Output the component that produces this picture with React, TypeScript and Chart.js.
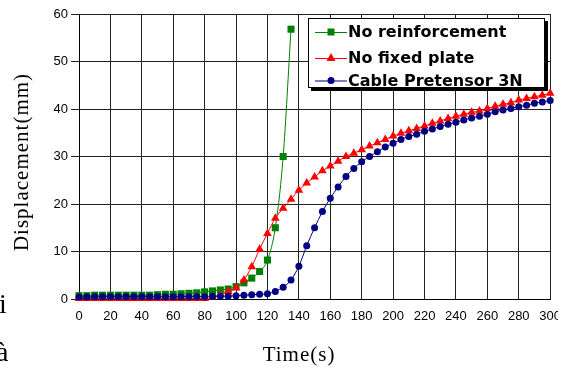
import React, { useEffect, useRef } from "react";
import { Chart, registerables } from "chart.js";

Chart.register(...registerables);

const times = [
  0, 5, 10, 15, 20, 25, 30, 35, 40, 45, 50, 55, 60, 65, 70, 75, 80, 85, 90, 95,
  100, 105, 110, 115, 120, 125, 130, 135, 140, 145, 150, 155, 160, 165, 170, 175,
  180, 185, 190, 195, 200, 205, 210, 215, 220, 225, 230, 235, 240, 245, 250, 255,
  260, 265, 270, 275, 280, 285, 290, 295, 300,
];

const noReinforcement = [
  0.7, 0.7, 0.8, 0.8, 0.8, 0.8, 0.8, 0.8, 0.8, 0.8, 0.9, 1.0, 1.0, 1.1, 1.2, 1.3,
  1.5, 1.7, 1.9, 2.1, 2.6, 3.4, 4.4, 5.8, 8.2, 15.0, 30.0, 56.8,
];

const noFixedPlate = [
  0.1, 0.1, 0.1, 0.1, 0.1, 0.1, 0.1, 0.1, 0.1, 0.1, 0.1, 0.1, 0.1, 0.1, 0.1, 0.1,
  0.1, 0.4, 0.9, 1.6, 2.3, 4.0, 6.8, 10.5, 13.8, 17.0, 19.1, 21.0, 22.9, 24.4,
  25.7, 27.0, 28.0, 29.0, 30.0, 30.7, 31.4, 32.2, 32.9, 33.6, 34.3, 34.9, 35.4,
  35.9, 36.4, 37.0, 37.5, 38.0, 38.5, 38.9, 39.3, 39.6, 40.1, 40.6, 41.0, 41.3,
  41.9, 42.2, 42.6, 42.9, 43.3,
];

const cablePretensor = [
  0.4, 0.4, 0.5, 0.5, 0.5, 0.5, 0.5, 0.5, 0.5, 0.5, 0.5, 0.5, 0.5, 0.5, 0.5, 0.5,
  0.5, 0.6, 0.6, 0.6, 0.7, 0.8, 0.9, 1.0, 1.1, 1.6, 2.5, 4.0, 6.9, 11.2, 15.0,
  18.4, 21.2, 23.6, 25.8, 27.5, 28.9, 30.0, 31.0, 32.0, 32.8, 33.6, 34.2, 34.7,
  35.3, 35.8, 36.3, 36.8, 37.2, 37.7, 38.1, 38.5, 38.9, 39.4, 39.8, 40.1, 40.5,
  40.8, 41.2, 41.5, 41.8,
];

const xTicks = [0, 20, 40, 60, 80, 100, 120, 140, 160, 180, 200, 220, 240, 260, 280, 300];
const yTicks = [0, 10, 20, 30, 40, 50, 60];

const seriesLabels = ["No reinforcement", "No fixed plate", "Cable Pretensor 3N"];
const seriesColors = ["#008000", "#ff0000", "#000080"];
const seriesShapes = ["rect", "triangle", "circle"];
const xTitle = "Time(s)";
const yTitle = "Displacement(mm)";

function drawMarker(ctx: CanvasRenderingContext2D, shape: string, x: number, y: number, color: string) {
  ctx.fillStyle = color;
  ctx.beginPath();
  if (shape === "rect") {
    ctx.rect(x - 3.5, y - 3.5, 7, 7);
  } else if (shape === "triangle") {
    ctx.moveTo(x, y - 5);
    ctx.lineTo(x + 4.5, y + 3);
    ctx.lineTo(x - 4.5, y + 3);
    ctx.closePath();
  } else {
    ctx.arc(x, y, 3.5, 0, Math.PI * 2);
  }
  ctx.fill();
}

const overlayPlugin = {
  id: "overlay",
  afterDraw(chart: any) {
    const ctx: CanvasRenderingContext2D = chart.ctx;
    ctx.save();
    // legend box with shadow
    const bx = 308, by = 18, bw = 237, bh = 70;
    ctx.fillStyle = "#000";
    ctx.fillRect(bx + 3, by + 3, bw, bh);
    ctx.fillStyle = "#fff";
    ctx.fillRect(bx, by, bw, bh);
    ctx.strokeStyle = "#000";
    ctx.lineWidth = 1;
    ctx.strokeRect(bx + 0.5, by + 0.5, bw - 1, bh - 1);
    const rows = [32, 58, 80.5];
    ctx.font = 'bold 16px "DejaVu Sans"';
    ctx.textBaseline = "middle";
    ctx.textAlign = "left";
    seriesLabels.forEach((label, i) => {
      const y = rows[i];
      ctx.strokeStyle = seriesColors[i];
      ctx.lineWidth = 1;
      ctx.beginPath();
      ctx.moveTo(315, y + 0.5);
      ctx.lineTo(347, y + 0.5);
      ctx.stroke();
      drawMarker(ctx, seriesShapes[i], 331, y, seriesColors[i]);
      ctx.fillStyle = "#000";
      ctx.fillText(label, 348, y + 1);
    });
    // axis titles
    ctx.fillStyle = "#000";
    ctx.font = '21px "Liberation Serif"';
    (ctx as any).letterSpacing = "1px";
    ctx.textAlign = "center";
    ctx.textBaseline = "middle";
    ctx.fillText(xTitle, 299, 355);
    ctx.translate(22, 162);
    ctx.rotate(-Math.PI / 2);
    ctx.fillText(yTitle, 0, 0);
    ctx.restore();
  },
};

export default function App() {
  const canvasRef = useRef<HTMLCanvasElement | null>(null);

  useEffect(() => {
    if (!canvasRef.current) return;
    const values = [noReinforcement, noFixedPlate, cablePretensor];
    const radii = [5, 5, 3.5];
    const datasets = values.map((vals, i) => ({
      label: seriesLabels[i],
      data: vals.map((v, j) => ({ x: times[j], y: v })),
      borderColor: seriesColors[i],
      backgroundColor: seriesColors[i],
      borderWidth: 1,
      pointStyle: seriesShapes[i],
      pointRadius: radii[i],
      pointBorderWidth: 0,
      pointBackgroundColor: seriesColors[i],
      cubicInterpolationMode: "monotone",
      clip: false,
      order: 3 - i,
    }));
    const tickFont = { family: '"Liberation Sans", Arial, sans-serif', size: 13 };
    const chart = new Chart(canvasRef.current, {
      type: "line",
      data: { datasets: datasets as any },
      options: {
        animation: false,
        responsive: false,
        devicePixelRatio: 1,
        layout: { padding: { left: 0, top: 14, right: 19, bottom: 0 } },
        plugins: { legend: { display: false }, tooltip: { enabled: false } },
        scales: {
          x: {
            type: "linear",
            min: 0,
            max: 300,
            afterBuildTicks: (s: any) => {
              s.ticks = xTicks.map((v) => ({ value: v }));
            },
            afterFit: (s: any) => {
              s.height = 70;
            },
            ticks: { color: "#000", font: tickFont, padding: 10, maxRotation: 0, autoSkip: false },
            grid: { color: "#222", lineWidth: 1, drawTicks: false },
            border: { display: true, color: "#000", width: 1 },
          },
          y: {
            type: "linear",
            min: 0,
            max: 60,
            afterBuildTicks: (s: any) => {
              s.ticks = yTicks.map((v) => ({ value: v }));
            },
            afterFit: (s: any) => {
              s.width = 79;
            },
            ticks: { color: "#000", font: tickFont, padding: 3 },
            grid: { color: "#222", lineWidth: 1, tickLength: 8 },
            border: { display: true, color: "#000", width: 1 },
          },
        },
      },
      plugins: [overlayPlugin],
    });
    return () => chart.destroy();
  }, []);

  return (
    <div
      style={{
        position: "absolute",
        left: 0,
        top: 0,
        width: 558,
        height: 369,
        overflow: "hidden",
        background: "#fff",
      }}
    >
      <canvas ref={canvasRef} width={571} height={369} style={{ display: "block" }} />
      <div
        style={{
          position: "absolute",
          left: -1,
          top: 290,
          fontFamily: '"Liberation Serif", serif',
          fontSize: 28,
          lineHeight: 1,
        }}
      >
        i
      </div>
      <div
        style={{
          position: "absolute",
          left: -4,
          top: 338,
          fontFamily: '"Liberation Serif", serif',
          fontSize: 28,
          lineHeight: 1,
        }}
      >
        à
      </div>
    </div>
  );
}
